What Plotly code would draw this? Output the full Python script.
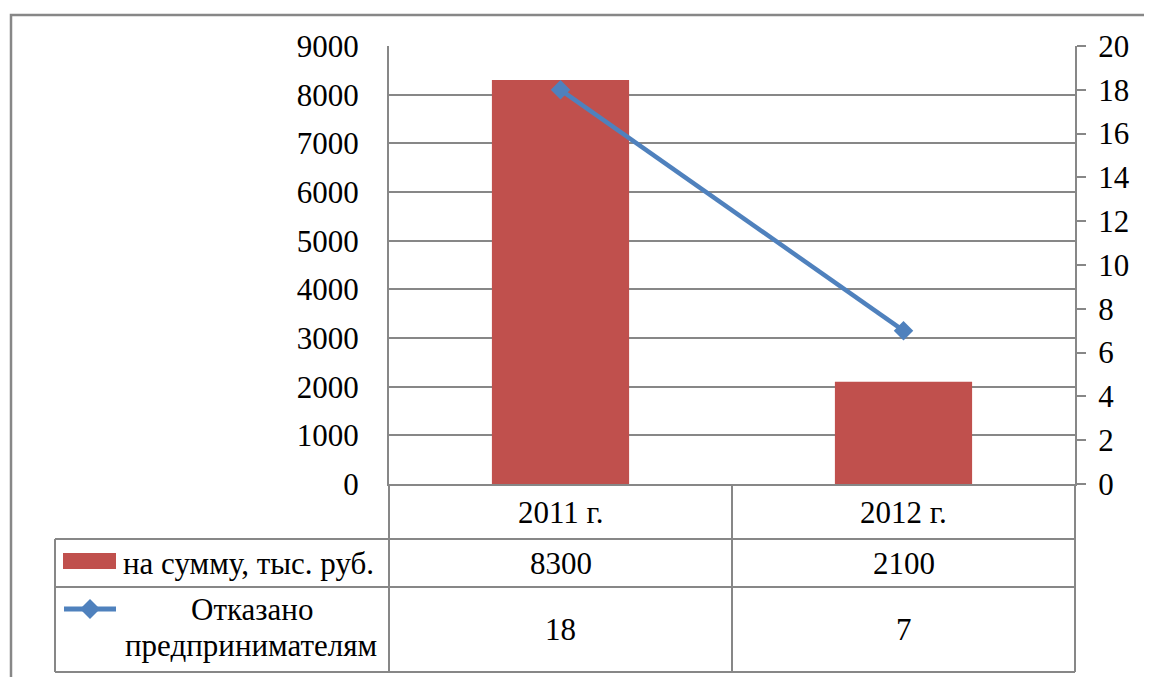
import plotly.graph_objects as go

categories = ["2011 г.", "2012 г."]
bar_name = "на сумму, тыс. руб."
bar_values = [8300, 2100]
line_name = "Отказано предпринимателям"
line_values = [18, 7]

OFF = 8  # page body margin
W, H = 1152 - OFF, 677 - OFF
L, R, T, B = 389, 1075, 46, 484
GRID = "#878787"
FONT = "Liberation Serif, Times New Roman, DejaVu Serif, serif"
FS = 31


def px(x):
    return (x - L) / (R - L)


def py(y):
    return (B - y) / (B - T)


fig = go.Figure()
fig.add_trace(go.Bar(x=categories, y=bar_values, name=bar_name,
                     marker=dict(color="#C0504D", line=dict(width=0)),
                     width=0.4, yaxis="y"))
fig.add_trace(go.Scatter(x=categories, y=line_values, name=line_name,
                         mode="lines+markers", yaxis="y2",
                         line=dict(color="#4F81BD", width=4.5),
                         marker=dict(symbol="diamond", size=15, color="#4F81BD")))

shapes = []
line_style = dict(color=GRID, width=2)
shapes.append(dict(type="rect", xref="paper", yref="paper",
                   x0=px(11), x1=px(1200), y0=py(720), y1=py(15),
                   line=dict(color=GRID, width=2.5), layer="below"))
for yy in [539, 587, 672]:
    shapes.append(dict(type="line", xref="paper", yref="paper",
                       x0=px(55), x1=px(1075), y0=py(yy), y1=py(yy), line=line_style))
for xx in [389, 732, 1075]:
    shapes.append(dict(type="line", xref="paper", yref="paper",
                       x0=px(xx), x1=px(xx), y0=py(484), y1=py(672), line=line_style))
shapes.append(dict(type="line", xref="paper", yref="paper",
                   x0=px(55), x1=px(55), y0=py(539), y1=py(672), line=line_style))
shapes.append(dict(type="rect", xref="paper", yref="paper",
                   x0=px(63), x1=px(116), y0=py(569), y1=py(553),
                   fillcolor="#C0504D", line=dict(width=0)))
shapes.append(dict(type="line", xref="paper", yref="paper",
                   x0=px(64), x1=px(116), y0=py(609), y1=py(609),
                   line=dict(color="#4F81BD", width=5)))
cx, cy, d = 90, 609, 10
path = "M {} {} L {} {} L {} {} L {} {} Z".format(
    px(cx - d), py(cy), px(cx), py(cy - d), px(cx + d), py(cy), px(cx), py(cy + d))
shapes.append(dict(type="path", xref="paper", yref="paper", path=path,
                   fillcolor="#4F81BD", line=dict(width=0)))

ann = []
tf = dict(family=FONT, size=FS, color="black")
common = dict(showarrow=False, font=tf, yanchor="middle")
for i, c in enumerate(categories):
    ann.append(dict(x=c, xref="x", y=py(512), yref="paper", text=c, xanchor="center", **common))
    ann.append(dict(x=c, xref="x", y=py(563), yref="paper", text=str(bar_values[i]),
                    xanchor="center", **common))
    ann.append(dict(x=c, xref="x", y=py(629), yref="paper", text=str(line_values[i]),
                    xanchor="center", **common))
ann.append(dict(x=px(121), y=py(563), xref="paper", yref="paper", text=bar_name,
                xanchor="left", **common))
words = line_name.split(" ")
ann.append(dict(x=px(252), y=py(609), xref="paper", yref="paper", text=words[0],
                xanchor="center", **common))
ann.append(dict(x=px(251), y=py(645), xref="paper", yref="paper", text=words[1],
                xanchor="center", **common))

fig.update_layout(
    width=W, height=H, autosize=False,
    margin=dict(l=L - OFF, r=W - (R - OFF), t=T - OFF, b=H - (B - OFF), pad=0),
    paper_bgcolor="white", plot_bgcolor="white",
    showlegend=False, bargap=0.6,
    font=dict(family=FONT, size=FS, color="black"),
    xaxis=dict(type="category", range=[-0.5, 1.5], showticklabels=False,
               showgrid=False, zeroline=False, showline=True,
               linecolor=GRID, linewidth=2, ticks=""),
    yaxis=dict(range=[0, 9000], dtick=1000, showgrid=True, gridcolor=GRID,
               gridwidth=1.5, zeroline=False, showline=True, linecolor=GRID,
               linewidth=2, ticks="", ticklabelstandoff=22,
               tickfont=dict(family=FONT, size=FS, color="black")),
    yaxis2=dict(range=[0, 20], dtick=2, overlaying="y", side="right",
                showgrid=False, zeroline=False, showline=True, linecolor=GRID,
                linewidth=2, ticks="outside", ticklen=9, tickcolor=GRID,
                tickwidth=2, ticklabelstandoff=6,
                tickfont=dict(family=FONT, size=FS, color="black")),
    shapes=shapes, annotations=ann,
)

fig.write_html("out.html")
